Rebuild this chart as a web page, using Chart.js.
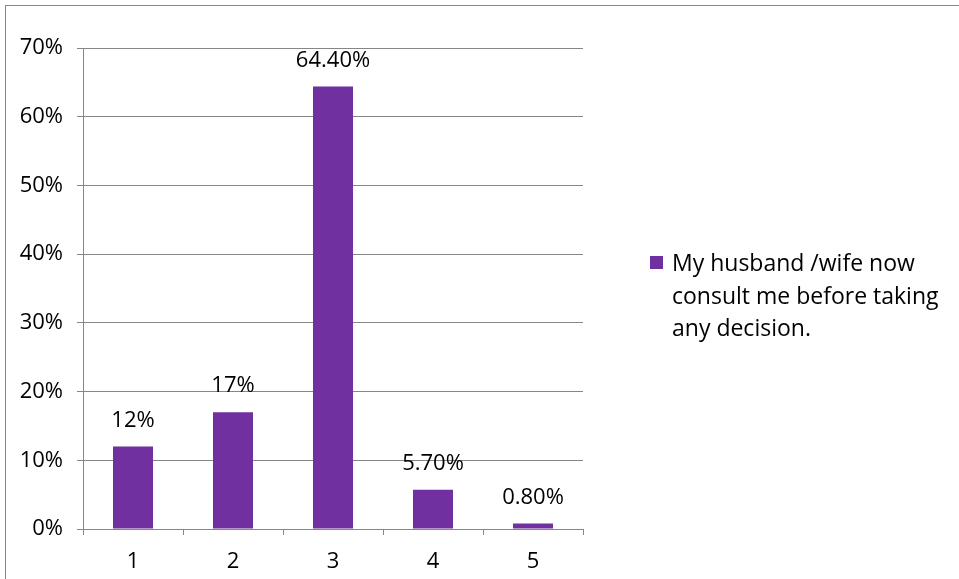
<!DOCTYPE html>
<html><head><meta charset="utf-8">
<script src="https://cdn.jsdelivr.net/npm/chart.js@4/dist/chart.umd.min.js"></script>
<style>
html,body{margin:0;padding:0;background:#fff;}
#wrap{position:relative;width:959px;height:579px;overflow:hidden;}
#frame{position:absolute;left:5px;top:5px;width:1200px;height:800px;border-top:1px solid #868686;border-left:1px solid #868686;}
canvas{position:absolute;left:0;top:0;}
#legend{position:absolute;left:650px;top:246px;font-family:"Open Sans",sans-serif;font-size:23px;line-height:32.5px;color:#000;}
#legend .sw{position:absolute;left:0;top:10px;width:13px;height:13px;}
#legend .tx{position:absolute;left:22px;top:0;width:300px;white-space:nowrap;}
</style></head>
<body><div id="wrap"><div id="frame"></div><canvas id="c" width="959" height="579"></canvas><div id="legend"></div></div>
<script>
const categories = ["1","2","3","4","5"];
const values = [12, 17, 64.4, 5.7, 0.8];
const valueLabels = ["12%","17%","64.40%","5.70%","0.80%"];
const seriesName = "My husband /wife now consult me before taking any decision.";
const legendLines = ["My husband /wife now","consult me before taking","any decision."];
const barColor = "#7030A0";
const gridColor = "#868686";
const font = "'Open Sans', sans-serif";

const labelPlugin = {
  id:'valueLabels',
  afterDatasetsDraw(chart){
    const ctx = chart.ctx;
    const meta = chart.getDatasetMeta(0);
    ctx.save();
    ctx.font = "22px " + font;
    ctx.fillStyle = "#000";
    ctx.textAlign = "center";
    ctx.textBaseline = "middle";
    meta.data.forEach((bar,i)=>{
      ctx.fillText(valueLabels[i], bar.x, bar.y - 26);
    });
    ctx.restore();
  }
};

new Chart(document.getElementById('c'), {
  type:'bar',
  data:{labels:categories, datasets:[{label:seriesName, data:values, backgroundColor:barColor, borderWidth:0, barPercentage:0.4, categoryPercentage:1}]},
  options:{
    responsive:false, animation:false, devicePixelRatio:1,
    layout:{padding:{left:0,top:48,right:376,bottom:0}},
    plugins:{legend:{display:false}, tooltip:{enabled:false}},
    scales:{
      x:{
        grid:{display:true, drawOnChartArea:false, drawTicks:true, tickLength:6, color:gridColor, offset:true},
        border:{display:true, color:gridColor, width:1},
        ticks:{font:{family:font,size:22}, color:"#000", padding:14},
        afterFit(s){ s.height = 50; }
      },
      y:{
        min:0, max:70,
        grid:{display:true, color:gridColor, lineWidth:1, tickLength:6, drawTicks:true},
        border:{display:true, color:gridColor, width:1},
        ticks:{stepSize:10, font:{family:font,size:22}, color:"#000", padding:14, callback:v=>v+"%"},
        afterFit(s){ s.width = 83; }
      }
    }
  },
  plugins:[labelPlugin]
});

const lg = document.getElementById('legend');
lg.innerHTML = '<div class="sw" style="background:'+barColor+'"></div><div class="tx">'+legendLines.join('<br>')+'</div>';
</script></body></html>
